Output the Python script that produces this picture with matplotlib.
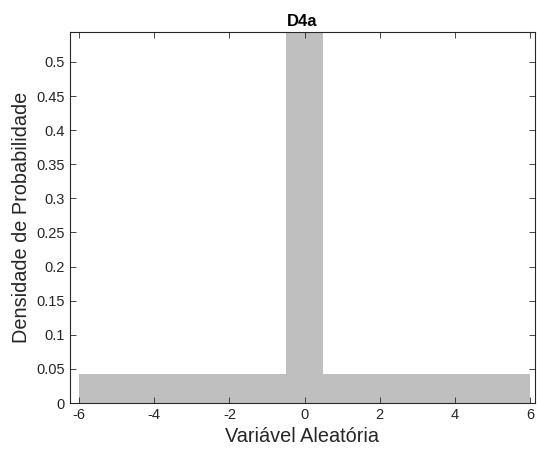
import numpy as np
import matplotlib
matplotlib.use("Agg")
import matplotlib.pyplot as plt

plt.rcParams['font.family'] = ['Liberation Sans', 'DejaVu Sans']
plt.rcParams['axes.unicode_minus'] = False

# bordas das classes e alturas (densidade)
bin_edges = [-6, -0.5, 0.5, 6]
densities = [0.042, 0.60, 0.042]
xticks = [-6, -4, -2, 0, 2, 4, 6]
yticks = [0, 0.05, 0.1, 0.15, 0.2, 0.25, 0.3, 0.35, 0.4, 0.45, 0.5]
ytick_labels = ["0", "0.05", "0.1", "0.15", "0.2", "0.25", "0.3", "0.35", "0.4", "0.45", "0.5"]

fig = plt.figure(figsize=(5.37, 4.5), dpi=100)
ax = fig.add_axes([0.130, 0.1044, 0.866, 0.8246])

lefts = np.array(bin_edges[:-1])
widths = np.diff(bin_edges)
ax.bar(lefts, densities, width=widths, align='edge', color='#bfbfbf', edgecolor='none')

ax.set_xlim(-6.25, 6.13)
ax.set_ylim(0, 0.544)
ax.set_xticks(xticks)
ax.set_yticks(yticks)
ax.set_yticklabels(ytick_labels)

for s in ax.spines.values():
    s.set_color('#262626')
    s.set_linewidth(0.8)
ax.tick_params(direction='in', top=True, right=True, length=4, width=0.6,
               colors='#262626', labelsize=10.5)

ax.set_title("D4a", fontsize=12, fontweight='bold', pad=4)
ax.set_xlabel("Variável Aleatória", fontsize=14.3, color='#262626')
ax.set_ylabel("Densidade de Probabilidade", fontsize=14.3, color='#262626')

fig.savefig("out.png", dpi=100)
